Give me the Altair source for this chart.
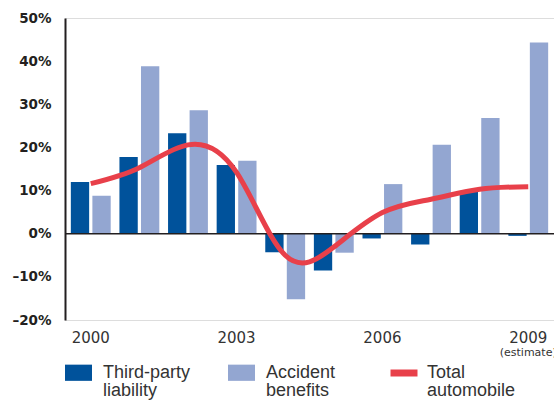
import altair as alt
import pandas as pd

# Year-over-year change in claims costs (%)
years = ["2000", "2001", "2002", "2003", "2004", "2005", "2006", "2007", "2008", "2009"]
third_party = [12.0, 17.8, 23.3, 15.9, -4.3, -8.5, -1.1, -2.5, 9.9, -0.5]
accident = [8.8, 38.8, 28.6, 16.9, -15.2, -4.4, 11.5, 20.6, 26.8, 44.3]
total = [11.6, 15.3, 20.6, 14.2, -5.0, -3.1, 4.9, 8.0, 10.3, 10.9]

bar_series = ["Third-party liability", "Accident benefits"]
bar_colors = ["#00529b", "#93a6d1"]
line_series = ["Total automobile"]
line_colors = ["#e8404a"]
labelled_years = ["2000", "2003", "2006", "2009"]
y_ticks = [-20, -10, 0, 10, 20, 30, 40, 50]
note_year = "2009"
note_text = "(estimate)"

bars_df = pd.DataFrame({
    "year": years * 2,
    "series": [bar_series[0]] * len(years) + [bar_series[1]] * len(years),
    "value": third_party + accident,
})
line_df = pd.DataFrame({"year": years, "series": line_series[0], "value": total})
note_df = pd.DataFrame({"year": [note_year], "note": [note_text]})
zero_df = pd.DataFrame({"value": [0]})

ink = "#231f20"
label_list = ",".join(f"'{y}'" for y in labelled_years)

x_scale = alt.Scale(domain=years, paddingInner=0.18, paddingOuter=0.12)
y_scale = alt.Scale(domain=[-20, 50], nice=False)

x_axis = alt.Axis(
    title=None, domain=False, ticks=False, labelAngle=0, labelOverlap=False,
    labelExpr=f"indexof([{label_list}], datum.value) >= 0 ? datum.label : ''",
    labelFont="DejaVu Sans", labelFontSize=15, labelColor="#333333", labelPadding=10,
)
y_axis = alt.Axis(
    title=None, values=y_ticks, ticks=False,
    labelExpr="(datum.value < 0 ? '\u2013' + abs(datum.value) : datum.value) + '%'",
    labelFont="DejaVu Sans", labelFontWeight="bold", labelFontSize=13.5,
    labelColor=ink, labelPadding=14,
    domainColor=ink, domainWidth=2,
    gridColor={"condition": {"test": "datum.value === 50 || datum.value === -20",
                             "value": "transparent"}, "value": "#ffffff"},
    gridWidth=2, gridOpacity=1,
)

legend_text = dict(
    title=None, orient="none", direction="horizontal", padding=0,
    labelFont="Liberation Sans", labelFontSize=18, labelColor="#333333",
    labelLimit=300, labelExpr="split(datum.label, ' ')",
    symbolSize=729,
)
bar_legend = alt.Legend(
    legendX=0, legendY=341, columns=2, gridAlign="all", columnPadding=37,
    labelOffset=11, symbolType="M-1,-0.6H1V0.6H-1Z", symbolStrokeWidth=0,
    **legend_text,
)
line_legend = alt.Legend(
    legendX=322, legendY=338, labelOffset=6,
    symbolType="stroke", symbolStrokeWidth=7,
    **legend_text,
)

bars = alt.Chart(bars_df).mark_bar().encode(
    x=alt.X("year:N", scale=x_scale, axis=x_axis),
    xOffset=alt.XOffset("series:N", sort=bar_series,
                        scale=alt.Scale(paddingInner=0.15, paddingOuter=0)),
    y=alt.Y("value:Q", scale=y_scale, axis=y_axis),
    color=alt.Color("series:N", sort=bar_series,
                    scale=alt.Scale(domain=bar_series, range=bar_colors),
                    legend=bar_legend),
)

zero = alt.Chart(zero_df).mark_rule(color=ink, strokeWidth=1.5).encode(y="value:Q")

line = alt.Chart(line_df).mark_line(
    interpolate="natural", strokeWidth=5, strokeCap="butt"
).encode(
    x=alt.X("year:N"),
    y=alt.Y("value:Q"),
    stroke=alt.Stroke("series:N",
                      scale=alt.Scale(domain=line_series, range=line_colors),
                      legend=line_legend),
)

note = alt.Chart(note_df).mark_text(
    dy=33, fontSize=11, font="DejaVu Sans", color="#333333", baseline="middle"
).encode(x=alt.X("year:N"), y=alt.datum(-20), text="note:N")

chart = alt.layer(bars, zero, line, note).properties(
    width=489, height=302, autosize="none",
    padding={"left": 65, "top": 18, "right": 0, "bottom": 80},
    background="#ffffff",
).configure_view(
    fill="#e6e7e9", strokeWidth=0
).configure(
    style={"guide-label": {"lineHeight": 18}}
)

chart.save("out.html", embed_options={"renderer": "svg", "actions": False})
